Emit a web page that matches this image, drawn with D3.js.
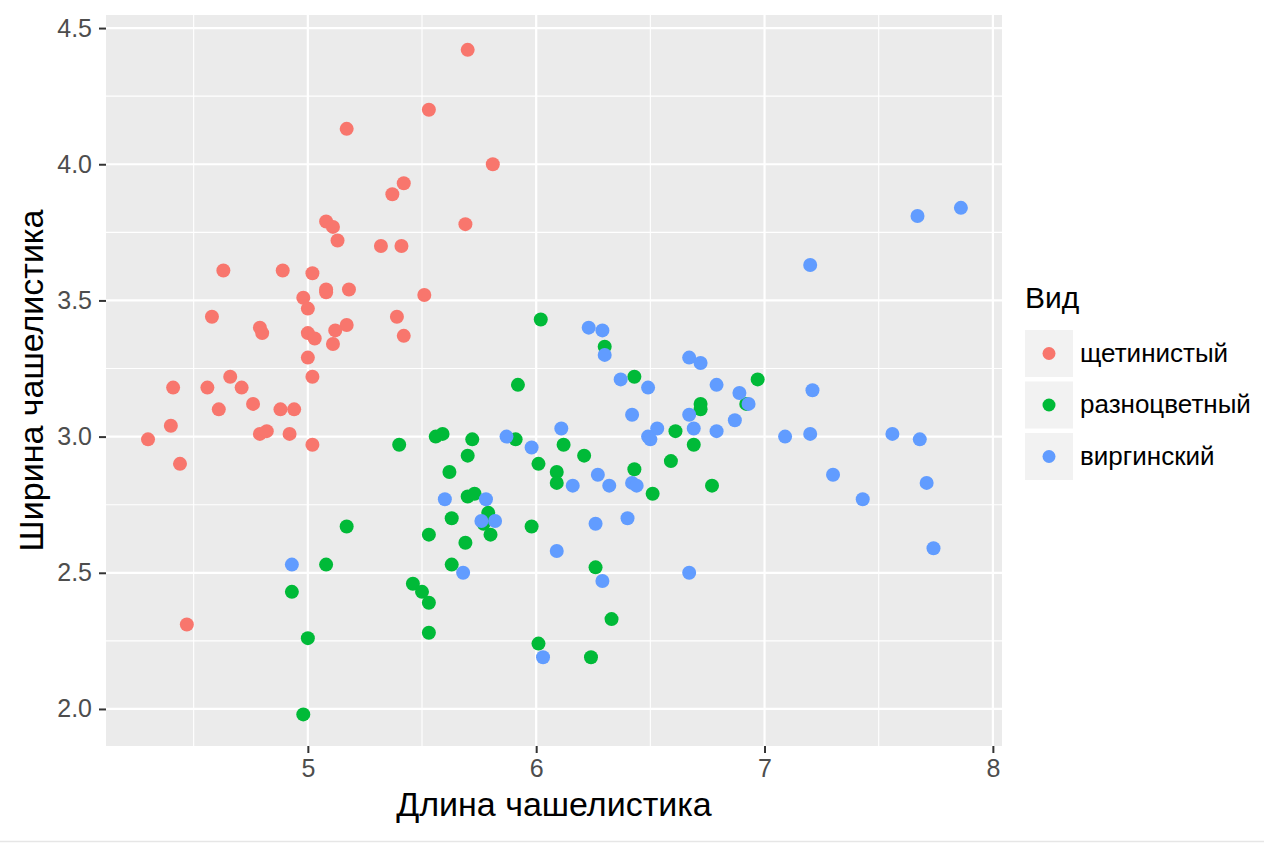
<!DOCTYPE html>
<html>
<head>
<meta charset="utf-8">
<script src="https://cdn.jsdelivr.net/npm/d3@7"></script>
<style>
  body { margin: 0; background: #fff; }
  svg { display: block; font-family: "Liberation Sans", Arial, sans-serif; }
</style>
</head>
<body>
<svg id="chart"></svg>
<script>
// species names and colours (ggplot default hue palette)
const species = ["щетинистый", "разноцветный", "виргинский"];
const speciesColors = ["#F8766D", "#00BA38", "#619CFF"];

// sepal length / width per species
const setosaLength = [5.70, 5.53, 5.17, 5.81, 5.42, 5.37, 5.69, 5.08, 5.11, 5.13, 5.32, 5.41, 4.63, 4.89, 5.02,
  5.08, 5.18, 5.08, 4.98, 5.51, 5.00, 4.58, 5.39, 4.79, 5.17, 5.12, 4.80, 5.00, 5.03, 5.42, 5.11, 5.00, 5.02,
  4.66, 4.41, 4.56, 4.71, 4.76, 4.61, 4.88, 4.94, 4.40, 4.79, 4.82, 4.92, 4.30, 5.02, 4.44, 4.47];
const setosaWidth = [4.42, 4.20, 4.13, 4.00, 3.93, 3.89, 3.78, 3.79, 3.77, 3.72, 3.70, 3.70, 3.61, 3.61, 3.60,
  3.54, 3.54, 3.53, 3.51, 3.52, 3.47, 3.44, 3.44, 3.40, 3.41, 3.39, 3.38, 3.38, 3.36, 3.37, 3.34, 3.29, 3.22,
  3.22, 3.18, 3.18, 3.18, 3.12, 3.10, 3.10, 3.10, 3.04, 3.01, 3.02, 3.01, 2.99, 2.97, 2.90, 2.31];

const versicolorLength = [6.02, 6.30, 5.92, 6.43, 6.97, 6.72, 6.72, 6.92, 6.61, 6.69, 6.59, 6.43, 6.51, 6.77,
  5.40, 5.56, 5.59, 5.72, 5.91, 6.12, 6.21, 5.70, 6.01, 6.09, 6.09, 5.62, 5.70, 5.73, 5.79, 5.77, 5.80, 5.63,
  5.53, 5.69, 5.98, 5.17, 5.08, 5.63, 6.26, 4.93, 5.46, 5.50, 5.53, 5.00, 5.53, 6.01, 6.24, 4.98, 6.33];
const versicolorWidth = [3.43, 3.33, 3.19, 3.22, 3.21, 3.12, 3.10, 3.12, 3.02, 2.97, 2.91, 2.88, 2.79, 2.82,
  2.97, 3.00, 3.01, 2.99, 2.99, 2.97, 2.93, 2.93, 2.90, 2.87, 2.83, 2.87, 2.78, 2.79, 2.72, 2.68, 2.64, 2.70,
  2.64, 2.61, 2.67, 2.67, 2.53, 2.53, 2.52, 2.43, 2.46, 2.43, 2.39, 2.26, 2.28, 2.24, 2.19, 1.98, 2.33];

const virginicaLength = [5.87, 5.98, 6.11, 6.16, 5.60, 5.78, 5.76, 5.82, 6.09, 5.68, 4.93, 6.03, 6.23, 6.29,
  6.30, 6.67, 6.72, 6.37, 6.49, 6.79, 6.89, 6.93, 6.42, 6.67, 6.53, 6.69, 6.87, 6.79, 6.49, 6.50, 6.27, 6.32,
  6.42, 6.44, 6.26, 6.40, 7.67, 7.86, 7.20, 7.21, 7.09, 7.20, 7.56, 7.68, 7.30, 7.43, 7.71, 7.74, 6.67, 6.29];
const virginicaWidth = [3.00, 2.96, 3.03, 2.82, 2.77, 2.77, 2.69, 2.69, 2.58, 2.50, 2.53, 2.19, 3.40, 3.39,
  3.30, 3.29, 3.27, 3.21, 3.18, 3.19, 3.16, 3.12, 3.08, 3.08, 3.03, 3.03, 3.06, 3.02, 3.00, 2.99, 2.86, 2.82,
  2.83, 2.82, 2.68, 2.70, 3.81, 3.84, 3.63, 3.17, 3.00, 3.01, 3.01, 2.99, 2.86, 2.77, 2.83, 2.59, 2.50, 2.47];

const xTicks = [5, 6, 7, 8];
const yTicks = [2.0, 2.5, 3.0, 3.5, 4.0, 4.5];
const xMinor = [4.5, 5.5, 6.5, 7.5];
const yMinor = [2.25, 2.75, 3.25, 3.75, 4.25];

const xTitle = "Длина чашелистика";
const yTitle = "Ширина чашелистика";
const legendTitle = "Вид";

// build point table from the arrays
const groups = [
  [setosaLength, setosaWidth],
  [versicolorLength, versicolorWidth],
  [virginicaLength, virginicaWidth]
];
const points = [];
groups.forEach(([xs, ys], i) => {
  xs.forEach((x, j) => points.push({ x: x, y: ys[j], sp: species[i] }));
});

const width = 1264, height = 843;
const margin = { top: 15, right: 262, bottom: 97, left: 106 };
const innerW = width - margin.left - margin.right;
const innerH = height - margin.top - margin.bottom;

const svg = d3.select("#chart")
  .attr("width", width)
  .attr("height", height);

const x = d3.scaleLinear().domain([4.116, 8.04]).range([0, innerW]);
const y = d3.scaleLinear().domain([1.864, 4.548]).range([innerH, 0]);
const color = d3.scaleOrdinal().domain(species).range(speciesColors);

const g = svg.append("g")
  .attr("transform", `translate(${margin.left},${margin.top})`);

// panel background
g.append("rect")
  .attr("width", innerW)
  .attr("height", innerH)
  .attr("fill", "#EBEBEB");

// minor grid
g.selectAll(".xminor").data(xMinor).join("line")
  .attr("x1", d => x(d)).attr("x2", d => x(d))
  .attr("y1", 0).attr("y2", innerH)
  .attr("stroke", "#fff").attr("stroke-width", 1.1);
g.selectAll(".yminor").data(yMinor).join("line")
  .attr("y1", d => y(d)).attr("y2", d => y(d))
  .attr("x1", 0).attr("x2", innerW)
  .attr("stroke", "#fff").attr("stroke-width", 1.1);

// major grid
g.selectAll(".xmajor").data(xTicks).join("line")
  .attr("x1", d => x(d)).attr("x2", d => x(d))
  .attr("y1", 0).attr("y2", innerH)
  .attr("stroke", "#fff").attr("stroke-width", 2.2);
g.selectAll(".ymajor").data(yTicks).join("line")
  .attr("y1", d => y(d)).attr("y2", d => y(d))
  .attr("x1", 0).attr("x2", innerW)
  .attr("stroke", "#fff").attr("stroke-width", 2.2);

// axes
const xAxis = d3.axisBottom(x).tickValues(xTicks).tickSize(7).tickPadding(6)
  .tickFormat(d3.format("d"));
const yAxis = d3.axisLeft(y).tickValues(yTicks).tickSize(7).tickPadding(7)
  .tickFormat(d3.format(".1f"));

const xAxisG = g.append("g")
  .attr("transform", `translate(0,${innerH})`)
  .call(xAxis);
const yAxisG = g.append("g").call(yAxis);

[xAxisG, yAxisG].forEach(ax => {
  ax.select(".domain").remove();
  ax.selectAll(".tick line").attr("stroke", "#333").attr("stroke-width", 2);
  ax.selectAll(".tick text")
    .attr("fill", "#4D4D4D")
    .style("font-size", "25px")
    .style("font-family", "Liberation Sans, Arial, sans-serif");
});

// points
g.selectAll(".pt").data(points).join("circle")
  .attr("class", "pt")
  .attr("cx", d => x(d.x))
  .attr("cy", d => y(d.y))
  .attr("r", 7)
  .attr("fill", d => color(d.sp));

// axis titles
svg.append("text")
  .attr("x", margin.left + innerW / 2)
  .attr("y", 816)
  .attr("text-anchor", "middle")
  .style("font-size", "34px")
  .attr("fill", "#000")
  .text(xTitle);

svg.append("text")
  .attr("transform", `translate(43,${margin.top + innerH / 2}) rotate(-90)`)
  .attr("text-anchor", "middle")
  .style("font-size", "34px")
  .attr("fill", "#000")
  .text(yTitle);

// legend
const legend = svg.append("g").attr("transform", "translate(1025,0)");
legend.append("text")
  .attr("x", 0).attr("y", 308)
  .style("font-size", "30px")
  .attr("fill", "#000")
  .text(legendTitle);

const keyH = 47, keyTop = 330, keyGap = 4.5;
const keys = legend.selectAll(".key").data(species).join("g")
  .attr("transform", (d, i) => `translate(0,${keyTop + i * (keyH + keyGap)})`);
keys.append("rect")
  .attr("width", 48).attr("height", keyH)
  .attr("fill", "#F2F2F2");
keys.append("circle")
  .attr("cx", 24).attr("cy", keyH / 2)
  .attr("r", 6.5)
  .attr("fill", d => color(d));
keys.append("text")
  .attr("x", 55).attr("y", keyH / 2 + 8)
  .style("font-size", "26px")
  .attr("fill", "#000")
  .text(d => d);

// faint line along the bottom edge
svg.append("line")
  .attr("x1", 0).attr("x2", width)
  .attr("y1", height - 1.5).attr("y2", height - 1.5)
  .attr("stroke", "#E6E6E6").attr("stroke-width", 1.5);
</script>
</body>
</html>
